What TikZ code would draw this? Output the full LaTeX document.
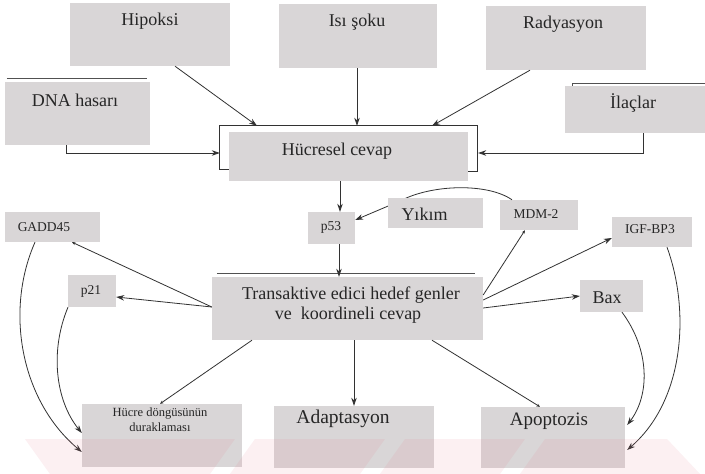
\documentclass[tikz,border=0pt]{standalone}
\usepackage{fontspec}
\setmainfont{Liberation Serif}
\newfontfamily\tnr{Liberation Serif}
\usetikzlibrary{arrows.meta,calc}
\definecolor{boxgray}{RGB}{217,214,215}
\definecolor{linecol}{RGB}{50,50,50}
\definecolor{wm}{RGB}{230,120,140}
\tikzset{
 box/.style={fill=boxgray, inner sep=0pt, draw=none},
 big/.style={font=\tnr\fontsize{18}{20}\selectfont, text=black!85, inner sep=0pt, align=center},
 small/.style={font=\tnr\fontsize{13.5}{15}\selectfont, text=black!85, inner sep=0pt, align=center},
 conn/.style={draw=linecol, line width=0.8pt},
 arr/.style={conn, -{Stealth[length=8pt,width=5.5pt]}},
 sarr/.style={conn, -{Stealth[length=3.5pt,width=3pt]}},
 topline/.style={draw=linecol!85, line width=1pt},
}
\newcommand\mybox[5]{\node[box,minimum width=#4pt,minimum height=#5pt] (#1) at (#2,#3) {};}
\begin{document}
\begin{tikzpicture}[x=1pt,y=-1pt]
\useasboundingbox (0,0) rectangle (705,474);
\fill[white] (0,0) rectangle (705,474);

% boxes
\mybox{hip}{150}{34.5}{160}{63}
\mybox{isi}{358}{36}{158}{64}
\mybox{rad}{566}{38}{160}{64}
\mybox{dna}{77.5}{113.5}{145}{63}
\mybox{ilac}{635}{109.5}{140}{47}
\mybox{huc}{348.5}{156.5}{239}{49}
\node[minimum width=257pt,minimum height=54pt,inner sep=0pt] (hucf) at (348.5,153) {};
\mybox{p53}{331.5}{228}{47}{32}
\mybox{mdm}{539}{215}{78}{30}
\mybox{gadd}{52.5}{227}{95}{30}
\mybox{igf}{652}{232}{80}{30}
\mybox{p21}{92}{291}{48}{32}
\mybox{bax}{611.5}{296}{63}{32}
\mybox{tra}{347.5}{308.5}{271}{63}
\mybox{hcd}{162}{435.5}{160}{63}
\mybox{ada}{354}{437}{160}{62}
\mybox{apo}{553}{437.5}{144}{61}

% MDM-2 -> p53 curve (passes behind Yikim)
\draw[arr] ([xshift=-27pt]mdm.north) .. controls (488,183) and (432,184) .. (400,201) -- ([yshift=8pt]p53.east);
\mybox{yik}{435.5}{213}{95}{30}

% top dark lines
\draw[topline] ([xshift=2pt,yshift=3pt]dna.north west) -- ([xshift=-3pt,yshift=3pt]dna.north east);
\draw[topline] ([xshift=8pt]ilac.north west) -- ++(0,-2) -- ([yshift=2pt]ilac.north east);
\draw[topline] ([xshift=5pt,yshift=3pt]tra.north west) -- ([xshift=-8pt,yshift=3pt]tra.north east);
\draw[conn, line width=1pt] (hucf.south west) ++(9,-11) -- ++(-9,0) |- (hucf.north east) -- ++(0,46) -- ++(-9,0);

% texts
\node[big] (hipT) at (150,21) {Hipoksi};
\node[big] (isiT) at (357,22) {Isı şoku};
\node[big] (radT) at (563,24) {Radyasyon};
\node[big] (dnaT) at (75,100) {DNA hasarı};
\node[big] (ilacT) at (633,103) {İlaçlar};
\node[big] (hucT) at (337,151) {Hücresel cevap};
\node[small] (p53T) at (331,227) {p53};
\node[big] (yikT) at (424.5,214) {Yıkım};
\node[small] (mdmT) at (536,214) {MDM-2};
\node[small] (gaddT) at (44,227) {GADD45};
\node[small] (igfT) at (650,229) {IGF-BP3};
\node[small] (p21T) at (91,291) {p21};
\node[big] (baxT) at (607,298) {Bax};
\node[big] (traT) at (351,305) {Transaktive edici hedef genler\\ve\ \ koordineli cevap\hspace*{6pt}};
\node[font=\tnr\fontsize{12.5}{15}\selectfont, text=black!85, inner sep=0pt, align=center] (hcdT) at (160,420) {Hücre döngüsünün\\duraklaması};
\node[big, font=\tnr\fontsize{19.5}{20}\selectfont] (adaT) at (343,419) {Adaptasyon};
\node[big, font=\tnr\fontsize{19}{20}\selectfont] (apoT) at (549,421) {Apoptozis};

% connectors into Hucresel cevap
\draw[arr] ([xshift=25pt]hip.south) -- ([xshift=-91.5pt]hucf.north);
\draw[arr] ([xshift=-1pt]isi.south) -- ([xshift=-1pt]isi.south |- hucf.north);
\draw[arr] ([xshift=-36pt]rad.south) -- ([xshift=83.5pt]hucf.north);
\draw[arr] ([xshift=-11.5pt]dna.south) |- (hucf.west);
\draw[arr] ([xshift=8pt]ilac.south) |- ([xshift=1pt]hucf.east);

% Hucresel -> p53 -> Transaktive
\draw[arr] ([xshift=-8.5pt]huc.south) -- ([xshift=8.5pt]p53.north);
\draw[arr] ([xshift=7.5pt]p53.south) -- ([xshift=7.5pt]p53.south |- tra.north);

% Transaktive outputs
\draw[sarr] ([yshift=1.5pt]tra.west) -- ([xshift=19.5pt]gadd.south);
\draw[arr] ([yshift=1.5pt]tra.west) -- ([yshift=-6pt]p21.east);
\draw[sarr] ([yshift=13.5pt]tra.east) -- ([xshift=-14pt]mdm.south);
\draw[arr] ([yshift=8.5pt]tra.east) -- ([yshift=-6pt]igf.west);
\draw[arr] ([yshift=0.5pt]tra.east) -- (bax.west);
\draw[sarr] ([xshift=-95.5pt]tra.south) -- ([xshift=-2pt]hcd.north);
\draw[arr] (ada.north |- tra.south) -- (ada.north);
\draw[sarr] ([xshift=84.5pt]tra.south) -- ([xshift=-13pt]apo.north);

% curves
\draw[arr] ([xshift=-17.5pt]gadd.south) .. controls (5,310) and (20,400) .. ([yshift=-16.5pt]hcd.west);
\draw[arr] ([xshift=-24pt]p21.south) .. controls (50,350) and (55,400) .. ([yshift=2.5pt]hcd.west);
\draw[arr] ([xshift=15pt]igf.south) .. controls (690,310) and (685,400) .. ([xshift=2pt,yshift=-12.5pt]apo.east);
\draw[arr] ([xshift=10.5pt]bax.south) .. controls (650,350) and (650,395) .. ([xshift=2pt,yshift=12.5pt]apo.east);

% watermark bands
\begin{scope}[fill=wm, fill opacity=0.11]
\fill (25,439) -- (235,439) -- (210,474) -- (50,474) -- cycle;
\fill (255,439) -- (385,439) -- (360,474) -- (230,474) -- cycle;
\fill (405,439) -- (525,439) -- (500,474) -- (380,474) -- cycle;
\fill (545,439) -- (667,439) -- (700,474) -- (520,474) -- cycle;
\end{scope}
\end{tikzpicture}
\end{document}
